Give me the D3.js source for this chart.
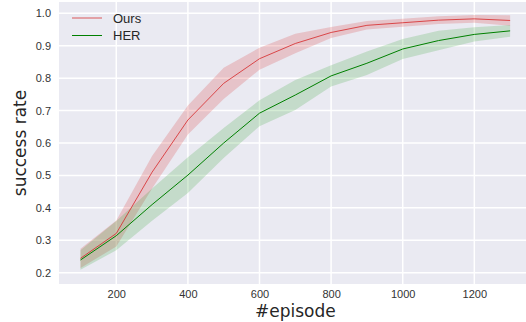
<!DOCTYPE html>
<html>
<head>
<meta charset="utf-8">
<script src="https://cdn.jsdelivr.net/npm/d3@7"></script>
<style>
  body { margin: 0; background: #fff; }
  svg { display: block; font-family: "DejaVu Sans", sans-serif; }
</style>
</head>
<body>
<svg width="526" height="322"></svg>
<script>
// DATA
var episodes = [100, 200, 300, 400, 500, 600, 700, 800, 900, 1000, 1100, 1200, 1300];
var oursMean = [0.244, 0.321, 0.51, 0.671, 0.784, 0.86, 0.907, 0.941, 0.963, 0.971, 0.979, 0.983, 0.978];
var oursSd   = [0.03, 0.04, 0.05, 0.045, 0.048, 0.034, 0.03, 0.017, 0.013, 0.012, 0.012, 0.012, 0.016];
var herMean  = [0.239, 0.314, 0.41, 0.501, 0.600, 0.692, 0.748, 0.807, 0.846, 0.890, 0.916, 0.935, 0.946];
var herSd    = [0.03, 0.045, 0.05, 0.055, 0.046, 0.04, 0.046, 0.033, 0.036, 0.031, 0.03, 0.022, 0.018];
var xTicks = [200, 400, 600, 800, 1000, 1200];
var yTicks = [0.2, 0.3, 0.4, 0.5, 0.6, 0.7, 0.8, 0.9, 1.0];
var seriesNames = ["Ours", "HER"];

var svg = d3.select("svg");
var pLeft = 59, pTop = 2, pRight = 531.6, pBottom = 284;

var x = d3.scaleLinear().domain([40, 1360]).range([pLeft, pRight]);
var y = d3.scaleLinear().domain([0.165, 1.035]).range([pBottom, pTop]);

svg.append("rect")
    .attr("x", pLeft).attr("y", pTop)
    .attr("width", pRight - pLeft).attr("height", pBottom - pTop)
    .attr("fill", "#eaeaf2");

// grid
svg.append("g")
    .selectAll("line")
    .data(xTicks)
    .enter().append("line")
    .attr("x1", function (d) { return x(d); })
    .attr("x2", function (d) { return x(d); })
    .attr("y1", pTop).attr("y2", pBottom)
    .attr("stroke", "#fff").attr("stroke-width", 1.5);

svg.append("g")
    .selectAll("line")
    .data(yTicks)
    .enter().append("line")
    .attr("y1", function (d) { return y(d); })
    .attr("y2", function (d) { return y(d); })
    .attr("x1", pLeft).attr("x2", pRight)
    .attr("stroke", "#fff").attr("stroke-width", 1.5);

// axes (tick labels only)
var xAxis = svg.append("g")
    .attr("transform", "translate(0," + pBottom + ")")
    .call(d3.axisBottom(x).tickValues(xTicks).tickSize(0).tickPadding(6).tickFormat(d3.format("d")));
var yAxis = svg.append("g")
    .attr("transform", "translate(" + pLeft + ",0)")
    .call(d3.axisLeft(y).tickValues(yTicks).tickSize(0).tickPadding(8).tickFormat(d3.format(".1f")));
[xAxis, yAxis].forEach(function (a) {
    a.select(".domain").remove();
    a.selectAll("text")
        .attr("fill", "#333")
        .style("font-family", "'Liberation Sans', Arial, sans-serif")
        .style("font-size", "11px");
});

svg.append("text")
    .attr("x", (pLeft + pRight) / 2)
    .attr("y", 317)
    .attr("text-anchor", "middle")
    .attr("fill", "#262626")
    .style("font-size", "17px")
    .text("#episode");

svg.append("text")
    .attr("transform", "translate(26," + ((pTop + pBottom) / 2) + ") rotate(-90)")
    .attr("text-anchor", "middle")
    .attr("fill", "#262626")
    .style("font-size", "17px")
    .text("success rate");

// series
var series = [
    { name: seriesNames[0], mean: oursMean, sd: oursSd, color: "#d62728", band: "#d62728", op: 0.8 },
    { name: seriesNames[1], mean: herMean, sd: herSd, color: "#008000", band: "#2ca02c", op: 1 }
];

var area = d3.area()
    .x(function (d) { return x(d.ep); })
    .y0(function (d) { return y(d.m - d.s); })
    .y1(function (d) { return y(d.m + d.s); });
var line = d3.line()
    .x(function (d) { return x(d.ep); })
    .y(function (d) { return y(d.m); });

series.forEach(function (s) {
    var pts = episodes.map(function (ep, i) { return { ep: ep, m: s.mean[i], s: s.sd[i] }; });
    svg.append("path")
        .datum(pts)
        .attr("d", area)
        .attr("fill", s.band)
        .attr("fill-opacity", 0.2);
});
series.forEach(function (s) {
    var pts = episodes.map(function (ep, i) { return { ep: ep, m: s.mean[i], s: s.sd[i] }; });
    svg.append("path")
        .datum(pts)
        .attr("d", line)
        .attr("fill", "none")
        .attr("stroke", s.color)
        .attr("stroke-opacity", s.op)
        .attr("stroke-width", 1);
});

// legend
var leg = svg.append("g").attr("transform", "translate(72,18)");
series.forEach(function (s, i) {
    leg.append("line")
        .attr("x1", 0).attr("x2", 30)
        .attr("y1", i * 17.5).attr("y2", i * 17.5)
        .attr("stroke", s.color)
        .attr("stroke-opacity", i === 0 ? 0.5 : 1)
        .attr("stroke-width", i === 0 ? 1.5 : 1);
    leg.append("text")
        .attr("x", 41).attr("y", i * 17.5)
        .attr("dy", "0.35em")
        .attr("fill", "#262626")
        .style("font-family", "'Liberation Sans', Arial, sans-serif")
        .style("font-size", "13px")
        .text(s.name);
});
</script>
</body>
</html>
